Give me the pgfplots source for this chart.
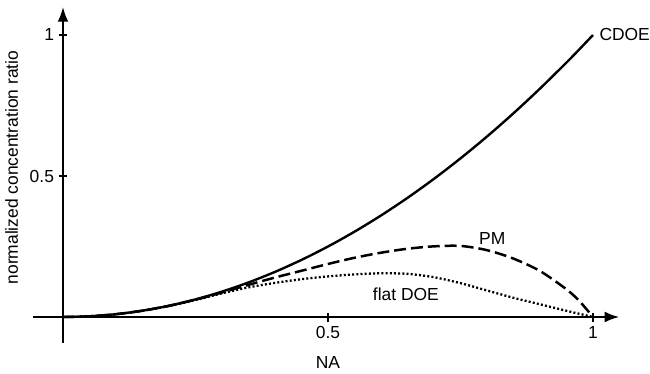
\documentclass[border=0pt]{standalone}
\usepackage{pgfplots}
\pgfplotsset{compat=1.18}
\usepackage{fontspec}
\setmainfont{Liberation Sans}
\usetikzlibrary{arrows.meta}

\pgfplotstableread{
x     cdoe    pm      flat
0.00  0.0000  0.0000  0.0000
0.05  0.0025  0.0025  0.0025
0.10  0.0100  0.0100  0.0100
0.15  0.0225  0.0224  0.0222
0.20  0.0400  0.0398  0.0390
0.25  0.0625  0.0615  0.0600
0.30  0.0900  0.0870  0.0840
0.35  0.1225  0.1140  0.1050
0.40  0.1600  0.1400  0.1210
0.45  0.2025  0.1640  0.1340
0.50  0.2500  0.1880  0.1440
0.55  0.3025  0.2100  0.1510
0.60  0.3600  0.2280  0.1550
0.65  0.4225  0.2420  0.1530
0.70  0.4900  0.2505  0.1410
0.75  0.5625  0.2520  0.1200
0.80  0.6400  0.2370  0.0940
0.85  0.7225  0.2070  0.0680
0.90  0.8100  0.1630  0.0450
0.95  0.9025  0.0980  0.0220
0.975 0.9506  0.0550  0.0110
1.00  1.0000  0.0000  0.0000
}\ratios

\begin{document}
\begin{tikzpicture}
\begin{axis}[
  anchor=origin, at={(0,0)},
  x=530bp, y=282bp,
  xmin=-0.057, xmax=1.05,
  ymin=-0.092, ymax=1.1,
  axis lines=middle,
  axis line style={line width=2.4pt, -{Latex[length=15pt,width=11pt]}},
  xtick={0.5,1}, ytick={0.5,1},
  xticklabels={0.5,1}, yticklabels={0.5,1},
  tick style={line width=1.6pt, black},
  major tick length=9bp,
  tick align=center,
  /pgf/number format/assume math mode=true,
  ticklabel style={font=\fontsize{17.5}{20}\selectfont},
  xticklabel style={yshift=-1bp},
  yticklabel style={xshift=-1bp},
  clip=false,
]
\addplot[black, line width=2.4pt, smooth] table[x=x, y=cdoe] {\ratios};
\addplot[black, line width=2.5pt, smooth, dash pattern=on 12pt off 5pt] table[x=x, y=pm] {\ratios};
\addplot[black, line width=2.3pt, smooth, dash pattern=on 2pt off 2.2pt] table[x=x, y=flat] {\ratios};

\node[anchor=west, font=\fontsize{17.5}{20}\selectfont, inner sep=1bp] at (axis cs:1.01,1.0) {CDOE};
\node[font=\fontsize{17.5}{20}\selectfont] at (axis cs:0.81,0.28) {PM};
\node[font=\fontsize{17.5}{20}\selectfont] at (axis cs:0.647,0.082) {flat DOE};
\node[font=\fontsize{17.5}{20}\selectfont] at (axis cs:0.5,-0.16) {NA};
\node[rotate=90, font=\fontsize{17.5}{20}\selectfont] at (axis cs:-0.097,0.53) {normalized concentration ratio};
\end{axis}
\pgfresetboundingbox
\path (-63bp,-57bp) rectangle (587bp,317bp);
\end{tikzpicture}
\end{document}
